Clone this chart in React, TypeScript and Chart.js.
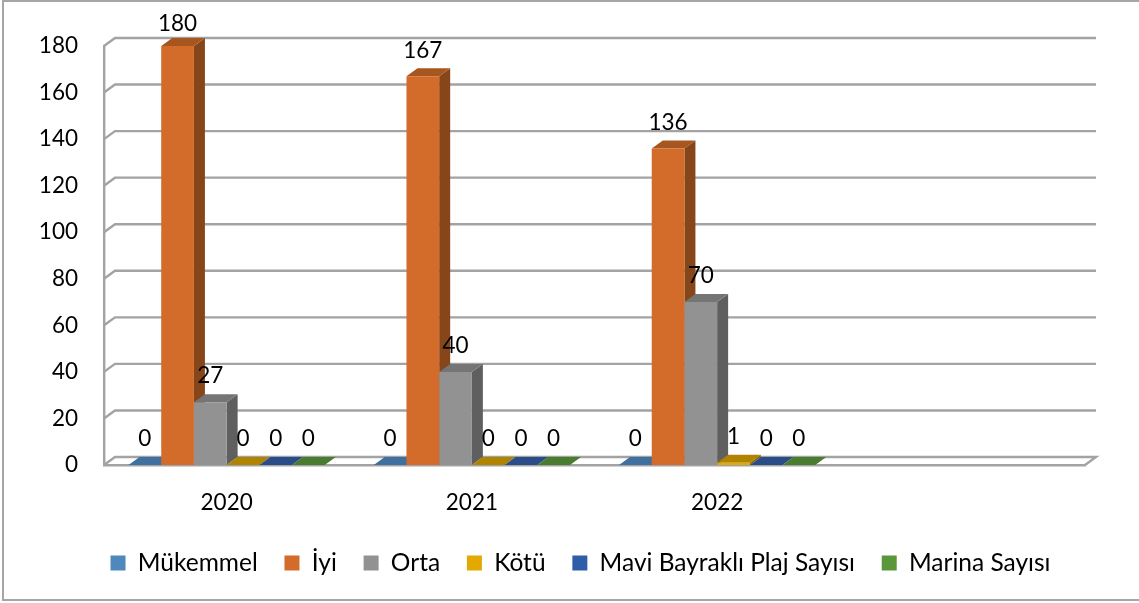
import React, { useEffect, useRef } from "react";
import { Chart, registerables } from "chart.js";

Chart.register(...registerables);

const categories = ["2020", "2021", "2022", ""];
const mukemmel = [0, 0, 0, null];
const iyi = [180, 167, 136, null];
const orta = [27, 40, 70, null];
const kotu = [0, 0, 1, null];
const maviBayrak = [0, 0, 0, null];
const marina = [0, 0, 0, null];
const seriesNames = ["Mükemmel", "İyi", "Orta", "Kötü", "Mavi Bayraklı Plaj Sayısı", "Marina Sayısı"];
const frontColors = ["#4f88bd", "#d36c2a", "#929292", "#e2a900", "#2f5ea8", "#5a963a"];
const topColors = ["#3f70a0", "#a8561f", "#757575", "#b08400", "#2a4d8a", "#4a7c30"];
const sideColors = ["#335a80", "#87461a", "#5f5f5f", "#8a6800", "#203c6c", "#3a6226"];

const FONT = "Lato, Carlito, Calibri, sans-serif";
const DX = 11;
const DY = 8;
const WALL = "#a3a3a3";
const LEGEND_SHIFT = 38;
const LABEL_MIN_Y = 24;

const poly = (ctx: CanvasRenderingContext2D, pts: number[][], fill: string) => {
  ctx.fillStyle = fill;
  ctx.beginPath();
  pts.forEach((p, i) => (i ? ctx.lineTo(p[0], p[1]) : ctx.moveTo(p[0], p[1])));
  ctx.closePath();
  ctx.fill();
};

const frame3d = {
  id: "frame3d",
  afterLayout(chart: any) {
    chart.legend.left += LEGEND_SHIFT;
    chart.legend.right += LEGEND_SHIFT;
  },
  beforeDraw(chart: any) {
    const ctx = chart.ctx;
    ctx.save();
    ctx.strokeStyle = "#a6a6a6";
    ctx.lineWidth = 2;
    ctx.strokeRect(3, 1, 1160, 599);
    ctx.restore();
  },
  beforeDatasetsDraw(chart: any) {
    const { ctx, chartArea, scales } = chart;
    ctx.save();
    ctx.strokeStyle = WALL;
    ctx.lineWidth = 2.4;
    scales.y.ticks.forEach((t: any) => {
      const y = scales.y.getPixelForValue(t.value);
      ctx.beginPath();
      ctx.moveTo(chartArea.left, y);
      ctx.lineTo(chartArea.left + DX, y - DY);
      ctx.lineTo(chartArea.right + DX, y - DY);
      if (t.value === 0) ctx.lineTo(chartArea.right, y);
      ctx.stroke();
    });
    chart.data.datasets.forEach((_: any, i: number) => {
      chart.getDatasetMeta(i).data.forEach((bar: any, j: number) => {
        const raw = chart.data.datasets[i].data[j];
        if (raw === null) return;
        const l = bar.x - bar.width / 2;
        const r = bar.x + bar.width / 2;
        const top = bar.y;
        const base = bar.base;
        poly(ctx, [[r, top], [r + DX, top - DY], [r + DX, base - DY], [r, base]], sideColors[i]);
        poly(ctx, [[l, top], [l + DX, top - DY], [r + DX, top - DY], [r, top]], topColors[i]);
      });
    });
    ctx.restore();
  },
  afterDatasetsDraw(chart: any) {
    const ctx = chart.ctx;
    ctx.save();
    ctx.fillStyle = "#000";
    ctx.font = `22.5px ${FONT}`;
    ctx.textAlign = "center";
    ctx.textBaseline = "middle";
    chart.data.datasets.forEach((ds: any, i: number) => {
      chart.getDatasetMeta(i).data.forEach((bar: any, j: number) => {
        const raw = ds.data[j];
        if (raw === null) return;
        ctx.fillText(String(raw), bar.x, Math.max(bar.y - 26, LABEL_MIN_Y));
      });
    });
    ctx.restore();
  },
};

export default function App() {
  const ref = useRef<HTMLCanvasElement>(null);
  useEffect(() => {
    const values = [mukemmel, iyi, orta, kotu, maviBayrak, marina];
    const chart = new Chart(ref.current as HTMLCanvasElement, {
      type: "bar",
      plugins: [frame3d],
      data: {
        labels: categories,
        datasets: seriesNames.map((name, i) => ({
          label: name,
          data: values[i],
          backgroundColor: frontColors[i],
          borderWidth: 0,
          barPercentage: 1,
          categoryPercentage: 0.8,
        })),
      },
      options: {
        responsive: false,
        animation: false,
        layout: { padding: { top: 46, right: 54, left: 0, bottom: 17.75 } },
        plugins: {
          title: { display: false },
          tooltip: { enabled: false },
          legend: {
            position: "bottom",
            labels: {
              boxWidth: 15,
              boxHeight: 15,
              padding: 26.8,
              color: "#000",
              font: { family: FONT, size: 24.5 },
            },
          },
        },
        scales: {
          x: {
            grid: { display: false, drawTicks: false },
            border: { color: WALL, width: 2.4 },
            ticks: { color: "#000", font: { family: FONT, size: 22.5 }, padding: 24, maxRotation: 0 },
            afterFit: (s: any) => { s.height = 58.95; },
          },
          y: {
            min: 0,
            max: 180,
            grid: { display: false, drawTicks: false },
            border: { color: WALL, width: 2.4 },
            ticks: { stepSize: 20, color: "#000", font: { family: FONT, size: 22.5 }, padding: 26 },
            afterFit: (s: any) => { s.width = 104; },
          },
        },
      },
    } as any);
    return () => chart.destroy();
  }, []);
  return (
    <div style={{ position: "absolute", left: 0, top: 0, width: 1139, height: 603, background: "#fff" }}>
      <canvas ref={ref} width={1139} height={603} style={{ display: "block" }} />
    </div>
  );
}
